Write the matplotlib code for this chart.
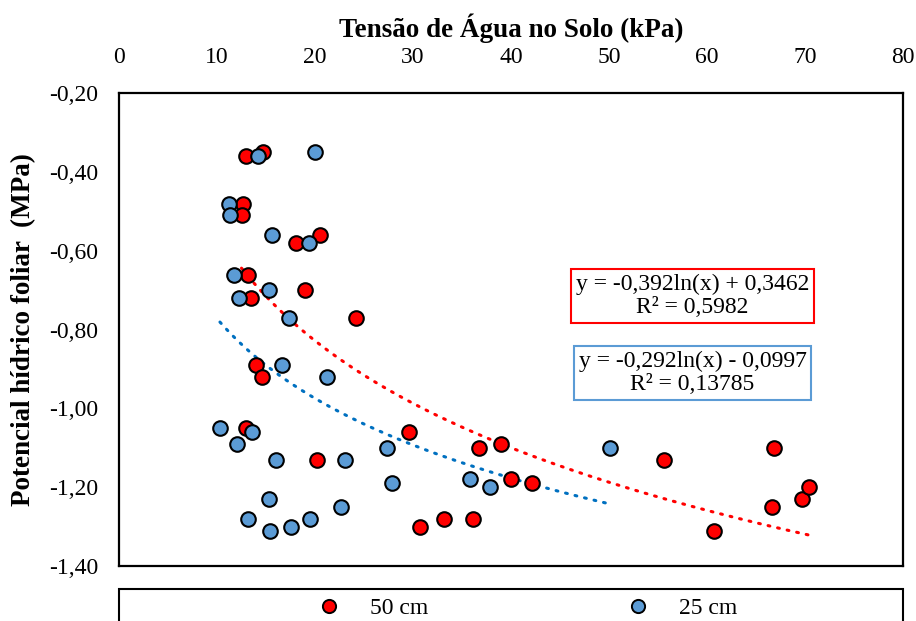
import numpy as np
import matplotlib.pyplot as plt
from matplotlib.ticker import FuncFormatter, MultipleLocator
from matplotlib.lines import Line2D
from matplotlib.patches import Rectangle

plt.rcParams['font.family'] = ['Liberation Serif', 'DejaVu Serif']

# 50 cm
x50 = [13.0, 14.7, 12.7, 12.5, 18.1, 20.5, 13.2, 13.5, 19.0, 24.2, 14.0, 14.6,
       13.0, 20.2, 29.6, 30.7, 33.2, 36.1, 36.7, 39.0, 40.0, 42.1, 55.6, 60.7,
       66.8, 66.6, 69.7, 70.4]
y50 = [-0.36, -0.35, -0.48, -0.51, -0.58, -0.56, -0.66, -0.72, -0.70, -0.77, -0.89, -0.92,
       -1.05, -1.13, -1.06, -1.30, -1.28, -1.28, -1.10, -1.09, -1.18, -1.19, -1.13, -1.31,
       -1.10, -1.25, -1.23, -1.20]

# 25 cm
x25 = [14.2, 20.0, 11.2, 11.3, 15.6, 19.4, 11.7, 12.2, 15.3, 17.3, 16.6, 21.2,
       10.3, 13.6, 12.0, 16.0, 23.1, 27.3, 27.9, 35.8, 37.9, 50.1, 15.3, 22.7,
       13.2, 15.4, 17.6, 19.5]
y25 = [-0.36, -0.35, -0.48, -0.51, -0.56, -0.58, -0.66, -0.72, -0.70, -0.77, -0.89, -0.92,
       -1.05, -1.06, -1.09, -1.13, -1.13, -1.10, -1.19, -1.18, -1.20, -1.10, -1.23, -1.25,
       -1.28, -1.31, -1.30, -1.28]

# linhas de tendência logarítmicas (coeficientes do gráfico)
a50, b50 = -0.392, 0.3462
a25, b25 = -0.292, -0.0997

red = '#FF0000'
blue = '#5B9BD5'
blue_line = '#0070C0'

fig = plt.figure(figsize=(9.16, 6.21), dpi=100)
ax = fig.add_axes([119 / 916, 1 - 566 / 621, 784 / 916, 472.7 / 621])

xt = np.linspace(min(x50), max(x50), 200)
ax.plot(xt, a50 * np.log(xt) + b50, color=red, lw=2.2, ls=(0, (0.6, 2.6)),
        dash_capstyle='round', zorder=3)
xt = np.linspace(min(x25), max(x25), 200)
ax.plot(xt, a25 * np.log(xt) + b25, color=blue_line, lw=2.2, ls=(0, (0.6, 2.6)),
        dash_capstyle='round', zorder=3)

ax.scatter(x50, y50, s=110, color=red, edgecolor='black', linewidth=1.5, zorder=4)
ax.scatter(x25, y25, s=110, color=blue, edgecolor='black', linewidth=1.5, zorder=4)

ax.set_xlim(0, 80)
ax.set_ylim(-1.40, -0.20)
ax.xaxis.set_major_locator(MultipleLocator(10))
ax.yaxis.set_major_locator(MultipleLocator(0.2))
ax.yaxis.set_major_formatter(FuncFormatter(lambda v, p: f"{v:.2f}".replace('.', ',')))
ax.xaxis.tick_top()
ax.xaxis.set_label_position('top')
ax.tick_params(axis='x', length=0, pad=18.5, labelsize=17)
ax.tick_params(axis='y', length=0, pad=15, labelsize=17)
for s in ax.spines.values():
    s.set_linewidth(1.6)

ax.set_xlabel('Tensão de Água no Solo (kPa)', fontsize=19.5, fontweight='bold', labelpad=7)
ax.set_ylabel('Potencial hídrico foliar  (MPa)', fontsize=19.5, fontweight='bold', labelpad=9)

ax.text(692.5 / 916, 1 - 296 / 621, 'y = -0,392ln(x) + 0,3462\nR² = 0,5982',
        transform=fig.transFigure, ha='center', va='center', fontsize=17, linespacing=1.12,
        bbox=dict(boxstyle='square,pad=0.2', fc='white', ec=red, lw=1.5), zorder=5)
ax.text(692.5 / 916, 1 - 373 / 621, 'y = -0,292ln(x) - 0,0997\nR² = 0,13785',
        transform=fig.transFigure, ha='center', va='center', fontsize=17, linespacing=1.12,
        bbox=dict(boxstyle='square,pad=0.2', fc='white', ec=blue, lw=1.5), zorder=5)

# caixa da legenda (cortada na parte de baixo)
fig.patches.append(Rectangle((119 / 916, -0.05), 784 / 916, 0.05 + 1 - 589 / 621,
                             transform=fig.transFigure, fill=False, ec='black', lw=1.5))
handles = [Line2D([], [], ls='none', marker='o', ms=9.5, mfc=red, mec='black', mew=1.4),
           Line2D([], [], ls='none', marker='o', ms=9.5, mfc=blue, mec='black', mew=1.4)]
fig.legend(handles, ['50 cm', '25 cm'], loc='center', bbox_to_anchor=(527 / 916, 1 - 608 / 621),
           ncol=2, frameon=False, fontsize=17, columnspacing=8.4, handletextpad=1.24,
           handlelength=1.0, borderaxespad=0, borderpad=0)

fig.savefig('out.png', dpi=100)
